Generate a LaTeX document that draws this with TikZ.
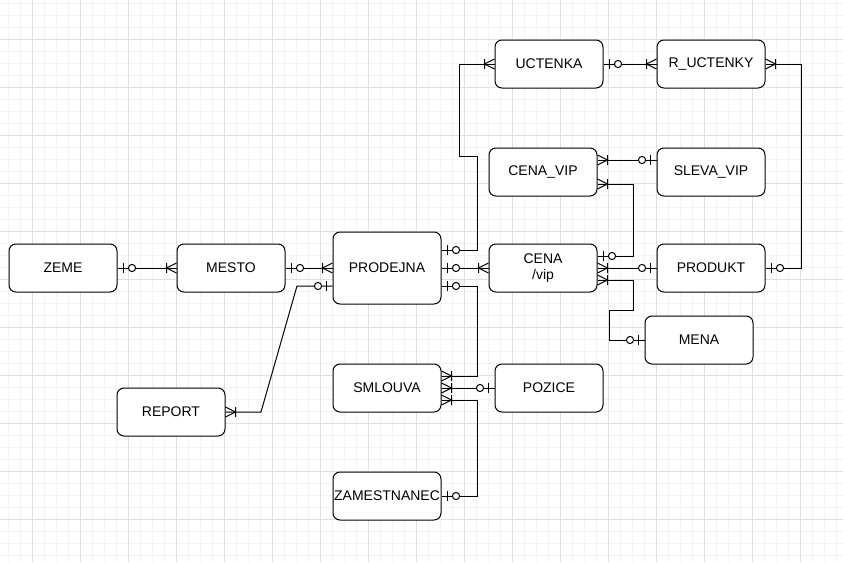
\documentclass[tikz,border=0pt]{standalone}
\usepackage{fontspec}
\setmainfont{Liberation Sans}
\usetikzlibrary{calc}
\pgfdeclarearrow{
  name = ermany,
  setup code = {
    \pgfarrowssettipend{0pt}
    \pgfarrowssetbackend{-10pt}
    \pgfarrowssetlineend{0pt}
    \pgfarrowssetvisualbackend{-10pt}
    \pgfarrowshullpoint{0pt}{5pt}
    \pgfarrowshullpoint{0pt}{-5pt}
    \pgfarrowshullpoint{-10pt}{5pt}
    \pgfarrowshullpoint{-10pt}{-5pt}
  },
  drawing code = {
    \pgfsetdash{}{0pt}
    \pgfpathmoveto{\pgfpoint{0pt}{5pt}}
    \pgfpathlineto{\pgfpoint{-10pt}{0pt}}
    \pgfpathlineto{\pgfpoint{0pt}{-5pt}}
    \pgfpathmoveto{\pgfpoint{-10pt}{5pt}}
    \pgfpathlineto{\pgfpoint{-10pt}{-5pt}}
    \pgfusepathqstroke
  }
}
\pgfdeclarearrow{
  name = erzo,
  setup code = {
    \pgfarrowssettipend{0pt}
    \pgfarrowssetbackend{-18pt}
    \pgfarrowssetlineend{0pt}
    \pgfarrowssetvisualbackend{-18pt}
    \pgfarrowshullpoint{0pt}{5pt}
    \pgfarrowshullpoint{0pt}{-5pt}
    \pgfarrowshullpoint{-18pt}{4pt}
    \pgfarrowshullpoint{-18pt}{-4pt}
  },
  drawing code = {
    \pgfsetdash{}{0pt}
    \pgfpathmoveto{\pgfpoint{-6pt}{5pt}}
    \pgfpathlineto{\pgfpoint{-6pt}{-5pt}}
    \pgfusepathqstroke
    \pgfsetfillcolor{white}
    \pgfpathcircle{\pgfpoint{-14.5pt}{0pt}}{3.6pt}
    \pgfusepathqfillstroke
  }
}
\definecolor{gridminor}{HTML}{F3F3F3}
\definecolor{gridmajor}{HTML}{E0E0E0}
\begin{document}
\begin{tikzpicture}[x=1pt,y=-1pt,
  ent/.style={draw, line width=1pt, rounded corners=7pt, minimum width=108pt,
    minimum height=48pt, inner sep=0pt, fill=white, align=center,
    font=\fontsize{14}{16.5}\selectfont},
  rel/.style={line width=1pt}]
\useasboundingbox (0,0) rectangle (843,562);
\fill[white] (0,0) rectangle (843,562);
\foreach \x in {8,20,...,843} \draw[gridminor, line width=0.8pt] (\x,0) -- (\x,562);
\foreach \y in {3,15,...,562} \draw[gridminor, line width=0.8pt] (0,\y) -- (843,\y);
\foreach \x in {32,80,...,843} \draw[gridmajor, line width=0.8pt] (\x,0) -- (\x,562);
\foreach \y in {39,87,...,562} \draw[gridmajor, line width=0.8pt] (0,\y) -- (843,\y);

\node[ent] (zeme) at (63,268) {ZEME};
\node[ent] (mesto) at (231,268) {MESTO};
\node[ent, minimum height=72pt] (prodejna) at (387,268) {PRODEJNA};
\node[ent] (uctenka) at (549,64) {UCTENKA};
\node[ent] (ructenky) at (711,64) {R\_UCTENKY};
\node[ent] (cenavip) at (543,172) {CENA\_VIP};
\node[ent] (slevavip) at (711,172) {SLEVA\_VIP};
\node[ent] (cena) at (543,268) {CENA\\/vip};
\node[ent] (produkt) at (711,268) {PRODUKT};
\node[ent] (mena) at (699,340) {MENA};
\node[ent] (report) at (171,412) {REPORT};
\node[ent] (smlouva) at (387,388) {SMLOUVA};
\node[ent] (pozice) at (549,388) {POZICE};
\node[ent] (zamestnanec) at (387,496) {ZAMESTNANEC};

\draw[rel, {erzo}-{ermany}] (zeme.east) -- (mesto.west);
\draw[rel, {erzo}-{ermany}] (mesto.east) -- (prodejna.west);
\draw[rel, {erzo}-{ermany}] ($(prodejna.west)+(0,18)$) -- (297,286) -- (261,412) -- (report.east);
\draw[rel, {erzo}-{ermany}] ($(prodejna.east)+(0,-18)$) -| (477,156) -| (459,64) -- (uctenka.west);
\draw[rel, {erzo}-{ermany}] (prodejna.east) -- (cena.west);
\draw[rel, {erzo}-{ermany}] ($(prodejna.east)+(0,18)$) -| (477,376) -- ($(smlouva.east)+(0,-12)$);
\draw[rel, {ermany}-{erzo}] (smlouva.east) -- (pozice.west);
\draw[rel, {ermany}-{erzo}] ($(smlouva.east)+(0,12)$) -| (477,496) -- (zamestnanec.east);
\draw[rel, {erzo}-{ermany}] (uctenka.east) -- (ructenky.west);
\draw[rel, {ermany}-{erzo}] (ructenky.east) -| (801,268) -- (produkt.east);
\draw[rel, {ermany}-{erzo}] ($(cenavip.east)+(0,-12)$) -- ($(slevavip.west)+(0,-12)$);
\draw[rel, {ermany}-{erzo}] ($(cenavip.east)+(0,12)$) -| (633,256) -- ($(cena.east)+(0,-12)$);
\draw[rel, {ermany}-{erzo}] (cena.east) -- (produkt.west);
\draw[rel, {ermany}-{erzo}] ($(cena.east)+(0,12)$) -| (633,310) -| (609,340) -- (mena.west);
\end{tikzpicture}
\end{document}
